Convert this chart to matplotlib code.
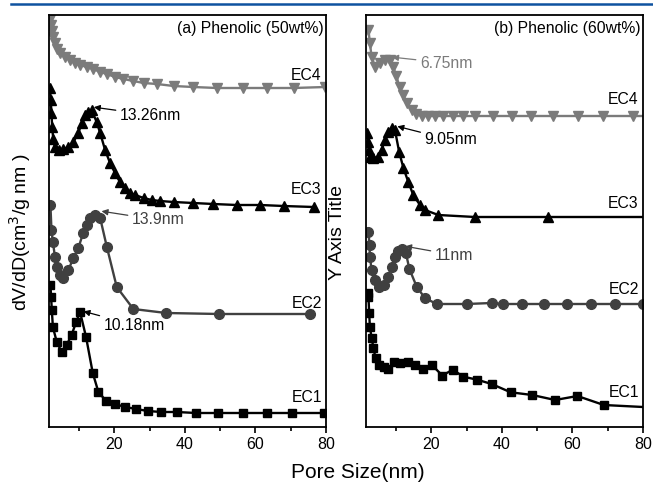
import matplotlib
matplotlib.use("Agg")
import matplotlib.pyplot as plt
from matplotlib.lines import Line2D

plt.rcParams['font.family'] = ['Liberation Sans', 'DejaVu Sans']

# (a) Phenolic 50wt% -- offset curves, arbitrary units
a_ec4_x = [1.8, 2.1, 2.4, 2.7, 3.2, 3.7, 4.6, 6.0, 7.5, 8.9, 10.3, 12.2, 14.1, 16.0, 17.9,
           20.2, 22.6, 25.4, 28.3, 32.1, 36.8, 42.4, 49.1, 56.6, 63.3, 70.8, 79.8]
a_ec4_y = [408, 402, 396, 390, 384, 378, 374, 370, 367, 364, 362, 360, 358, 355, 353,
           350, 348, 346, 344, 343, 341, 340, 339, 339, 339, 339, 340]

a_ec3_x = [1.8, 2.0, 2.2, 2.4, 2.7, 3.2, 4.3, 5.6, 7.0, 8.4, 9.8, 10.8, 11.7, 12.6, 13.6,
           15.0, 16.0, 17.4, 18.8, 20.2, 21.6, 23.1, 24.5, 25.9, 28.3, 30.6, 33.0, 36.8,
           42.4, 48.1, 54.7, 61.4, 68.0, 76.5]
a_ec3_y = [339, 327, 314, 300, 288, 280, 277, 278, 280, 285, 294, 304, 312, 315, 317,
           305, 294, 277, 264, 254, 245, 239, 234, 232, 229, 227, 226, 225,
           224, 223, 222, 222, 221, 220]

a_ec2_x = [1.9, 2.2, 2.6, 3.2, 3.7, 4.6, 5.6, 7.0, 8.4, 9.8, 11.2, 12.2, 13.1, 14.4,
           16.0, 17.9, 20.7, 25.4, 34.7, 49.8, 75.5]
a_ec2_y = [222, 197, 185, 170, 160, 152, 149, 157, 169, 179, 194, 202, 209, 212,
           209, 180, 140, 118, 114, 113, 113]

a_ec1_x = [1.9, 2.1, 2.3, 2.6, 3.7, 5.1, 6.5, 7.9, 9.2, 10.3, 12.0, 13.9, 15.5, 17.7,
           20.2, 23.1, 26.2, 29.5, 33.3, 37.7, 43.2, 49.4, 56.6, 63.3, 70.4, 79.3]
a_ec1_y = [142, 130, 117, 100, 85, 75, 82, 92, 105, 115, 90, 54, 35, 26,
           23, 20, 18, 16, 15, 15, 14, 14, 14, 14, 14, 14]

# (b) Phenolic 60wt%
b_ec4_x = [2.2, 2.6, 3.1, 4.1, 5.5, 6.9, 8.3, 9.2, 10.1, 11.0, 12.0, 13.1, 14.4, 15.8,
           17.3, 19.1, 21.0, 23.4, 26.2, 29.1, 32.4, 37.6, 42.8, 48.4, 54.6, 61.6,
           68.7, 77.2, 82.0]
b_ec4_y = [397, 384, 370, 360, 364, 367, 367, 360, 351, 340, 332, 324, 317, 313,
           311, 311, 311, 311, 311, 311, 311, 311, 311, 311, 311, 311,
           311, 311, 311]

b_ec3_x = [1.8, 2.2, 2.4, 2.6, 3.6, 5.0, 5.9, 6.9, 7.8, 8.8, 9.7, 10.9, 12.1, 13.5,
           14.9, 16.8, 18.2, 22.0, 32.4, 53.1, 80.0]
b_ec3_y = [294, 285, 277, 270, 269, 270, 277, 287, 295, 299, 297, 275, 259, 245,
           232, 222, 217, 212, 210, 210, 210]

b_ec2_x = [2.2, 2.5, 2.6, 3.1, 4.1, 5.2, 6.5, 7.6, 8.8, 9.7, 10.7, 11.6, 12.8, 13.8,
           15.9, 18.2, 21.5, 30.0, 37.1, 40.2, 45.6, 51.9, 58.4, 65.2, 72.1, 80.1]
b_ec2_y = [195, 182, 170, 157, 147, 140, 142, 150, 160, 170, 176, 178, 174, 158,
           140, 129, 123, 123, 124, 123, 123, 123, 123, 123, 123, 123]

b_ec1_x = [2.0, 2.2, 2.4, 2.6, 3.1, 3.6, 4.2, 5.2, 6.6, 7.8, 9.3, 11.1, 13.5, 15.4,
           17.7, 20.2, 23.1, 26.1, 29.1, 33.0, 37.1, 42.5, 48.6, 55.1, 61.4, 68.9, 80.0]
b_ec1_y = [134, 130, 114, 100, 89, 79, 69, 62, 60, 58, 65, 64, 65.5, 62,
           58.5, 62, 51.5, 57.3, 50.3, 47.3, 43, 34.7, 32, 27, 31, 22, 20]

BLACK = '#000000'
DGRAY = '#404040'
LGRAY = '#7b7b7b'

fig = plt.figure(figsize=(6.53, 4.86), dpi=100)
ax1 = fig.add_axes([49 / 653, 59 / 486, 277 / 653, 412 / 486])
ax2 = fig.add_axes([366 / 653, 59 / 486, 277 / 653, 412 / 486])


def draw(ax, x, y, marker, color, ms, every=None):
    ax.plot(x, y, color=color, marker=marker, ms=ms, lw=1.7,
            mec=color, mfc=color, markevery=every)


draw(ax1, a_ec4_x, a_ec4_y, 'v', LGRAY, 7)
draw(ax1, a_ec3_x, a_ec3_y, '^', BLACK, 7)
draw(ax1, a_ec2_x, a_ec2_y, 'o', DGRAY, 7)
draw(ax1, a_ec1_x, a_ec1_y, 's', BLACK, 6)

draw(ax2, b_ec4_x, b_ec4_y, 'v', LGRAY, 7)
draw(ax2, b_ec3_x, b_ec3_y, '^', BLACK, 7, slice(0, -1))
draw(ax2, b_ec2_x, b_ec2_y, 'o', DGRAY, 7)
draw(ax2, b_ec1_x, b_ec1_y, 's', BLACK, 6, slice(0, -1))

for ax in (ax1, ax2):
    ax.set_xlim(1.5, 80)
    ax.set_ylim(0, 412)
    ax.set_xticks([20, 40, 60, 80])
    ax.set_xticks([10, 30, 50, 70], minor=True)
    ax.set_yticks([])
    ax.tick_params(axis='x', which='major', direction='out', length=4.5, width=1.2,
                   labelsize=11.5, pad=3)
    ax.tick_params(axis='x', which='minor', direction='out', length=3, width=1.2)
    for s in ax.spines.values():
        s.set_linewidth(1.3)

ax1.text(0.99, 0.985, '(a) Phenolic (50wt%)', transform=ax1.transAxes,
         ha='right', va='top', fontsize=11.3)
ax2.text(0.99, 0.985, '(b) Phenolic (60wt%)', transform=ax2.transAxes,
         ha='right', va='top', fontsize=11.3)

# curve names at the right end
for ax, names in ((ax1, [('EC4', 352), ('EC3', 237), ('EC2', 124), ('EC1', 30)]),
                  (ax2, [('EC4', 327), ('EC3', 223), ('EC2', 137), ('EC1', 35)])):
    for name, yy in names:
        ax.text(78.8, yy, name, ha='right', va='center', fontsize=11.3)


def peak(ax, label, xy, xytext, color):
    ax.annotate(label, xy=xy, xytext=xytext, color=color, fontsize=11.3,
                ha='left', va='center',
                arrowprops=dict(arrowstyle='-|>', color=color, lw=0.9,
                                shrinkA=1, shrinkB=1, mutation_scale=9))


peak(ax1, '13.26nm', (13.8, 320), (21.6, 312), BLACK)
peak(ax1, '13.9nm', (16.0, 216), (25.0, 207), DGRAY)
peak(ax1, '10.18nm', (10.9, 116), (17.0, 102), BLACK)
peak(ax2, '6.75nm', (8.5, 370), (16.8, 364), LGRAY)
peak(ax2, '9.05nm', (10.0, 301), (18.1, 287), BLACK)
peak(ax2, '11nm', (12.2, 181), (21.0, 172), DGRAY)

fig.text(20 / 653, 1 - 232 / 486, 'dV/dD(cm$^3$/g nm )', rotation=90,
         ha='center', va='center', fontsize=14)
fig.text(338 / 653, 1 - 233 / 486, 'Y Axis Title', rotation=90,
         ha='center', va='center', fontsize=14)
fig.text(358 / 653, 1 - 472 / 486, 'Pore Size(nm)', ha='center', va='center',
         fontsize=15)

fig.add_artist(Line2D([11 / 653, 1.0], [1 - 4 / 486, 1 - 4 / 486],
                      transform=fig.transFigure, color='#0f52a0', lw=1.8))

fig.savefig('out.png', dpi=100)
